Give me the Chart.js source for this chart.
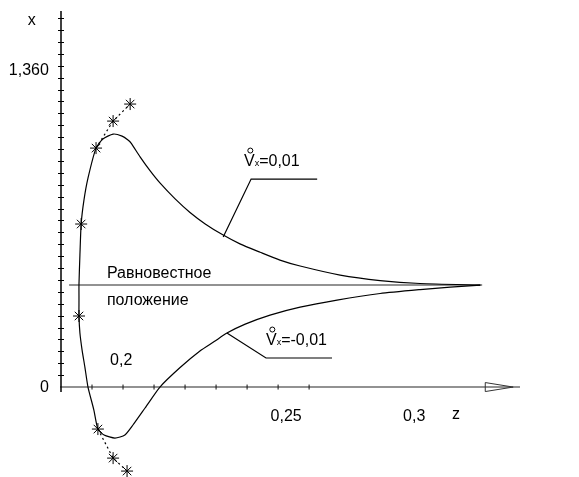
<!DOCTYPE html>
<html>
<head>
<meta charset="utf-8">
<script src="https://cdn.jsdelivr.net/npm/chart.js@4"></script>
<style>
  body { margin: 0; background: #fff; }
</style>
</head>
<body>
<canvas id="chart" width="579" height="477"></canvas>
<script>
// trajectory for V°x = 0,01 (goes up first, then settles)
const upperZ = [0.58, 0.58, 0.61, 0.65, 0.74, 0.87, 1.13, 1.35, 1.68, 1.97, 2.16, 2.26, 2.55, 2.87, 3.19, 3.68, 4.16, 4.65, 5.23, 5.77, 6.42, 7.06, 7.71, 9.00, 10.29, 11.58, 13.52];
const upperX = [7.31, 8.66, 11.09, 13.70, 15.71, 17.56, 20.08, 20.84, 21.26, 21.09, 20.76, 20.50, 19.34, 18.18, 17.15, 15.81, 14.67, 13.71, 12.77, 12.03, 11.33, 10.67, 10.17, 9.41, 8.95, 8.70, 8.57];

// trajectory for V°x = -0,01
const lowerZ = [0.58, 0.58, 0.61, 0.68, 0.77, 0.87, 1.06, 1.19, 1.39, 1.74, 2.06, 2.32, 2.71, 3.19, 3.84, 4.48, 4.94, 5.35, 5.94, 6.74, 7.71, 8.90, 10.29, 11.58, 12.55, 13.52];
const lowerX = [7.31, 5.97, 4.54, 3.11, 1.68, 0, -1.93, -3.53, -4.03, -4.29, -4.03, -3.19, -1.76, 0, 1.64, 3.03, 3.82, 4.54, 5.29, 6.05, 6.72, 7.31, 7.86, 8.19, 8.40, 8.57];

// dotted continuation of the boundary with marked points
const dotUpZ = [1.13, 1.68, 2.23];
const dotUpX = [20.08, 22.35, 23.78];
const dotDownZ = [1.19, 1.68, 2.13];
const dotDownX = [-3.53, -5.97, -7.06];

// marked points (*)
const starZ = [1.13, 0.65, 0.58, 1.19, 1.68, 2.23, 1.68, 2.13];
const starX = [20.08, 13.70, 5.97, -3.53, 22.35, 23.78, -5.97, -7.06];

// equilibrium position line
const eqZ = [0.26, 13.58];
const eqX = [8.57, 8.57];

// callout leaders
const leadUpZ = [5.23, 6.13, 8.26];
const leadUpX = [12.61, 17.48, 17.48];
const leadDownZ = [5.35, 6.61, 8.74];
const leadDownX = [4.54, 2.44, 2.44];

// axis tick labels
const xTickLabels = ['0,2', '0,25', '0,3'];
const xTickPos = [1.94, 7.26, 11.39];
const xTickBase = [1.85, -2.86, -2.86];
const yTickLabels = ['0', '1,360'];
const yTickPos = [-0.42, 26.22];
const xTickCount = 8;
const yTickCount = 31;

const FONT = '"Liberation Sans", Arial, sans-serif';

function pts(zs, xs) {
  return zs.map((z, i) => ({ x: z, y: xs[i] }));
}

function lineSet(data, opts) {
  return Object.assign({
    data: data,
    showLine: true,
    borderColor: '#000',
    borderWidth: 1.2,
    pointRadius: 0,
    tension: 0,
    clip: false
  }, opts || {});
}

const axesPlugin = {
  id: 'axes',
  beforeDatasetsDraw(chart) {
    const { ctx, scales: { x, y } } = chart;
    const x0 = x.getPixelForValue(0);
    const y0 = y.getPixelForValue(0);
    ctx.save();
    // z axis
    ctx.strokeStyle = '#6e6e6e';
    ctx.lineWidth = 1.5;
    ctx.beginPath();
    ctx.moveTo(x0 - 1, y0);
    ctx.lineTo(x.getPixelForValue(14.8), y0);
    ctx.stroke();
    const a0 = x.getPixelForValue(13.68);
    const a1 = x.getPixelForValue(14.58);
    ctx.lineWidth = 1;
    ctx.strokeStyle = '#333';
    ctx.beginPath();
    ctx.moveTo(a0, y0 - 4.5);
    ctx.lineTo(a1, y0);
    ctx.lineTo(a0, y0 + 4.5);
    ctx.closePath();
    ctx.stroke();
    ctx.strokeStyle = '#111';
    for (let i = 1; i <= xTickCount; i++) {
      const px = x.getPixelForValue(i);
      ctx.beginPath();
      ctx.moveTo(px, y0 - 2.5);
      ctx.lineTo(px, y0 + 2.5);
      ctx.stroke();
    }
    // x axis (vertical)
    ctx.strokeStyle = '#000';
    ctx.lineWidth = 1.5;
    ctx.beginPath();
    ctx.moveTo(x0, chart.chartArea.top);
    ctx.lineTo(x0, y0 + 5);
    ctx.stroke();
    ctx.lineWidth = 1;
    for (let i = 1; i <= yTickCount; i++) {
      const py = Math.round(y.getPixelForValue(i)) + 0.5;
      ctx.beginPath();
      ctx.moveTo(x0 - 3, py);
      ctx.lineTo(x0 + 3, py);
      ctx.stroke();
    }
    ctx.restore();
  },
  afterDatasetsDraw(chart) {
    const { ctx, scales: { x, y } } = chart;
    ctx.save();
    ctx.fillStyle = '#000';
    ctx.font = '16px ' + FONT;
    ctx.textBaseline = 'alphabetic';
    ctx.textAlign = 'center';
    xTickLabels.forEach((t, i) => {
      ctx.fillText(t, x.getPixelForValue(xTickPos[i]), y.getPixelForValue(xTickBase[i]));
    });
    ctx.fillText('z', x.getPixelForValue(12.74), y.getPixelForValue(-2.69));
    ctx.textAlign = 'right';
    yTickLabels.forEach((t, i) => {
      ctx.fillText(t, x.getPixelForValue(-0.39), y.getPixelForValue(yTickPos[i]));
    });
    ctx.textAlign = 'center';
    ctx.fillText('x', x.getPixelForValue(-0.94), y.getPixelForValue(30.42));
    ctx.textAlign = 'left';
    ctx.fillText('Равновестное', x.getPixelForValue(1.48), y.getPixelForValue(9.16));
    ctx.fillText('положение', x.getPixelForValue(1.48), y.getPixelForValue(6.89));

    function vLabel(z, xv, rest) {
      let px = x.getPixelForValue(z);
      const py = y.getPixelForValue(xv);
      ctx.font = '16px ' + FONT;
      ctx.fillText('V', px, py);
      const vw = ctx.measureText('V').width;
      ctx.beginPath();
      ctx.lineWidth = 1;
      ctx.strokeStyle = '#000';
      ctx.arc(px + vw / 2 + 1, py - 15.5, 2.5, 0, Math.PI * 2);
      ctx.stroke();
      px += vw;
      ctx.font = '9px ' + FONT;
      ctx.fillText('x', px, py);
      px += ctx.measureText('x').width;
      ctx.font = '16px ' + FONT;
      ctx.fillText(rest, px, py);
    }
    vLabel(5.90, 18.57, '=0,01');
    vLabel(6.61, 3.53, '=-0,01');
    ctx.restore();
  }
};

new Chart(document.getElementById('chart'), {
  type: 'scatter',
  data: {
    datasets: [
      lineSet(pts(upperZ, upperX), { tension: 0.2 }),
      lineSet(pts(lowerZ, lowerX), { tension: 0.2 }),
      lineSet(pts(dotUpZ, dotUpX), { borderDash: [2, 3] }),
      lineSet(pts(dotDownZ, dotDownX), { borderDash: [2, 3] }),
      lineSet(pts(starZ, starX), {
        showLine: false,
        pointStyle: 'star',
        pointRadius: 6,
        pointBorderColor: '#000',
        pointBorderWidth: 1,
        pointBackgroundColor: '#000'
      }),
      lineSet(pts(eqZ, eqX), { borderColor: '#6e6e6e', borderWidth: 1.5 }),
      lineSet(pts(leadUpZ, leadUpX)),
      lineSet(pts(leadDownZ, leadDownX))
    ]
  },
  options: {
    responsive: false,
    animation: false,
    layout: { padding: { left: 61, right: 59, top: 11, bottom: 12 } },
    plugins: { legend: { display: false }, tooltip: { enabled: false } },
    scales: {
      x: { type: 'linear', display: false, min: 0, max: 14.8 },
      y: { type: 'linear', display: false, min: -6.55, max: 31.6 }
    }
  },
  plugins: [axesPlugin]
});
</script>
</body>
</html>
